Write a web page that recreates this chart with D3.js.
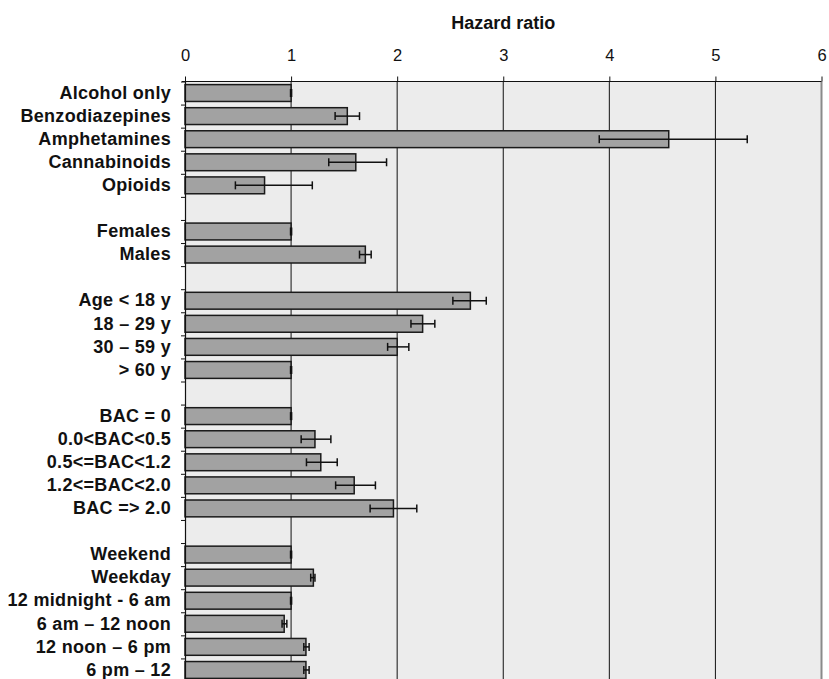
<!DOCTYPE html>
<html lang="en"><head><meta charset="utf-8">
<title>Hazard ratio</title>
<script type="text/javascript" src="https://cdn.jsdelivr.net/npm/d3@7"></script>
<style>
  body { margin: 0; background: #fff; }
  text { font-family: "Liberation Sans", Arial, sans-serif; }
</style>
</head>
<body>
<script type="text/javascript">
// categories (empty string = spacer row between groups)
var labels = ["Alcohol only", "Benzodiazepines", "Amphetamines", "Cannabinoids", "Opioids", "",
              "Females", "Males", "",
              "Age < 18 y", "18 \u2013 29 y", "30 \u2013 59 y", "> 60 y", "",
              "BAC = 0", "0.0<BAC<0.5", "0.5<=BAC<1.2", "1.2<=BAC<2.0", "BAC => 2.0", "",
              "Weekend", "Weekday", "12 midnight - 6 am", "6 am \u2013 12 noon", "12 noon \u2013 6 pm", "6 pm \u2013 12"];
var hazard = [1.0, 1.53, 4.56, 1.61, 0.75, null,
              1.0, 1.70, null,
              2.69, 2.24, 2.0, 1.0, null,
              1.0, 1.225, 1.28, 1.595, 1.965, null,
              1.0, 1.21, 1.0, 0.935, 1.14, 1.14];
var ciLow  = [0.995, 1.415, 3.905, 1.355, 0.475, null,
              0.995, 1.645, null,
              2.525, 2.13, 1.91, 0.995, null,
              0.995, 1.095, 1.145, 1.42, 1.745, null,
              0.995, 1.185, 0.995, 0.915, 1.12, 1.12];
var ciHigh = [1.005, 1.645, 5.30, 1.90, 1.20, null,
              1.005, 1.755, null,
              2.84, 2.355, 2.11, 1.005, null,
              1.005, 1.375, 1.435, 1.795, 2.185, null,
              1.005, 1.225, 1.005, 0.96, 1.17, 1.17];
var xTicks = [0, 1, 2, 3, 4, 5, 6];

var width = 829, height = 679;
var plotLeft = 185, plotRight = 821.5, plotTop = 81.5, plotBottom = 681.5;

var svg = d3.select("body").append("svg")
            .attr("width", width)
            .attr("height", height);

var x = d3.scaleLinear().domain([0, 6]).range([plotLeft, plotRight]);
var idx = d3.range(labels.length);
var y = d3.scaleBand().domain(idx).range([plotTop, plotBottom])
          .paddingInner(0.27).paddingOuter(0.135);
var yEdge = d3.scaleLinear().domain([0, labels.length]).range([plotTop, plotBottom]);

// plot background
svg.append("rect")
    .attr("x", plotLeft).attr("y", plotTop)
    .attr("width", plotRight - plotLeft).attr("height", plotBottom - plotTop)
    .attr("fill", "#ececec");

// vertical grid lines
svg.selectAll(".grid")
    .data(xTicks.filter(function(d){ return d > 0; }))
    .enter().append("line")
    .attr("class", "grid")
    .attr("x1", function(d){ return x(d); })
    .attr("x2", function(d){ return x(d); })
    .attr("y1", plotTop).attr("y2", plotBottom)
    .attr("stroke", function(d){ return d == 6 ? "#8a8a8a" : "#111"; })
    .attr("stroke-width", function(d){ return d == 6 ? 2 : 1; });

// bars
var rows = idx.filter(function(i){ return hazard[i] != null; });

svg.selectAll(".bar")
    .data(rows)
    .enter().append("rect")
    .attr("class", "bar")
    .attr("x", x(0))
    .attr("y", function(i){ return y(i); })
    .attr("width", function(i){ return x(hazard[i]) - x(0); })
    .attr("height", y.bandwidth())
    .attr("fill", "#a2a2a2")
    .attr("stroke", "#1a1a1a")
    .attr("stroke-width", 1.5);

// error bars
var err = svg.selectAll(".err").data(rows).enter().append("g").attr("class", "err")
    .attr("stroke", "#111").attr("stroke-width", 1.5);
err.append("line")
    .attr("x1", function(i){ return x(ciLow[i]); })
    .attr("x2", function(i){ return x(ciHigh[i]); })
    .attr("y1", function(i){ return y(i) + y.bandwidth() / 2; })
    .attr("y2", function(i){ return y(i) + y.bandwidth() / 2; });
[ciLow, ciHigh].forEach(function(arr){
  err.append("line")
    .attr("x1", function(i){ return x(arr[i]); })
    .attr("x2", function(i){ return x(arr[i]); })
    .attr("y1", function(i){ return y(i) + y.bandwidth() / 2 - 4; })
    .attr("y2", function(i){ return y(i) + y.bandwidth() / 2 + 4; });
});

// top axis
var xAxis = svg.append("g")
    .attr("transform", "translate(0," + plotTop + ")")
    .call(d3.axisTop(x).tickValues(xTicks).tickFormat(d3.format("d"))
            .tickSize(5).tickPadding(16).tickSizeOuter(0));
xAxis.select(".domain").attr("d", "M" + (plotLeft - 3) + ",0H" + plotRight).attr("stroke", "#111").attr("stroke-width", 1.2);
xAxis.selectAll(".tick line").attr("stroke", "#111");
xAxis.selectAll("text").attr("font-size", 16.5).attr("fill", "#111")
    .style("font-family", "'Liberation Sans', Arial, sans-serif");

// left axis: separator ticks between rows
var edgeAxis = svg.append("g")
    .attr("transform", "translate(" + plotLeft + ",0)")
    .call(d3.axisLeft(yEdge).tickValues(d3.range(labels.length + 1)).tickSize(4).tickFormat("").tickSizeOuter(0));
edgeAxis.select(".domain").attr("stroke", "#111").attr("stroke-width", 1.2);
edgeAxis.selectAll(".tick line").attr("stroke", "#111");

// left axis: category labels
var catAxis = svg.append("g")
    .attr("transform", "translate(" + plotLeft + ",0)")
    .call(d3.axisLeft(y).tickSize(0).tickPadding(14).tickFormat(function(i){ return labels[i]; }));
catAxis.select(".domain").remove();
catAxis.selectAll("text").attr("font-size", 18).attr("font-weight", "bold").attr("fill", "#111")
    .attr("letter-spacing", 0.3)
    .style("font-family", "'Liberation Sans', Arial, sans-serif");

// title
svg.append("text")
    .attr("x", (plotLeft + plotRight) / 2)
    .attr("y", 28.7)
    .attr("text-anchor", "middle")
    .attr("font-size", 18)
    .attr("font-weight", "bold")
    .attr("fill", "#111")
    .text("Hazard ratio");
</script>
</body></html>
